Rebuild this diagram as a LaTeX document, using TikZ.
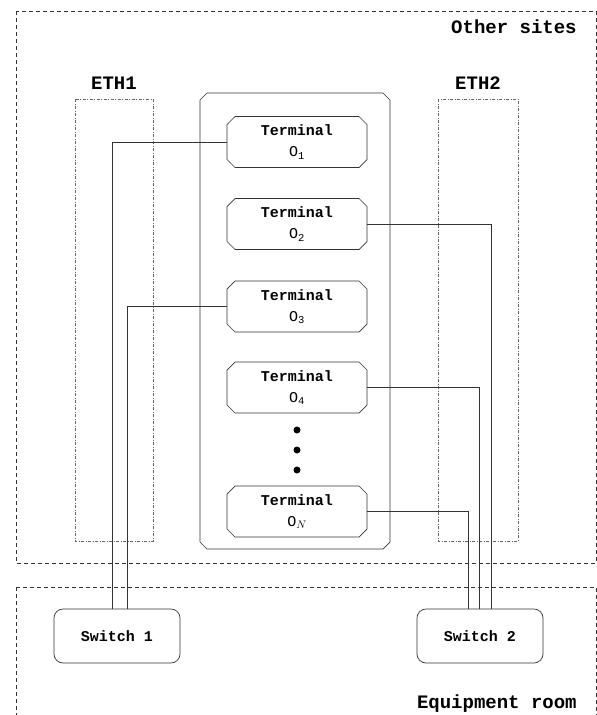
\documentclass[tikz,border=0pt]{standalone}
\usepackage{fontspec}
\setmonofont{Liberation Mono}
\usetikzlibrary{shapes.misc, calc}

\begin{document}
\begin{tikzpicture}[x=1pt, y=-1pt, line width=0.7pt,
    zone/.style={draw=black!80, dash pattern=on 4pt off 3pt},
    ethzone/.style={draw=black!60, dash pattern=on 3pt off 1.5pt on 1pt off 1.5pt},
    zonelabel/.style={font=\ttfamily\bfseries\fontsize{19}{22}\selectfont, inner sep=0pt},
    bayline/.style={draw=black!80},
    terminal/.style={draw=black!80, chamfered rectangle, chamfered rectangle xsep=4pt,
        chamfered rectangle ysep=4pt, minimum width=140pt, minimum height=51pt,
        inner sep=0pt, align=center, font=\ttfamily\fontsize{15}{21}\selectfont},
    switchbox/.style={draw=black!80, rounded corners=9pt, minimum width=126pt,
        minimum height=54pt, inner sep=0pt, font=\ttfamily\bfseries\fontsize{15}{18}\selectfont},
    cable/.style={draw=black!80}
]
    \useasboundingbox (0,0) rectangle (597,715);

    % Zone
    \draw[zone] (16,11) rectangle (596,563);
    \draw[zone] (16,587) rectangle (596,730);
    \node[zonelabel, anchor=east] (other) at (577,27) {Other sites};
    \node[zonelabel, anchor=east] (room) at (577,704) {Equipment room};

    % Ethernet
    \draw[ethzone] (75,99) rectangle (153,541);
    \draw[ethzone] (438,99) rectangle (518,541);
    \node[zonelabel] (eth1) at (114,83) {ETH1};
    \node[zonelabel] (eth2) at (478,83) {ETH2};

    % Armadio terminali (angoli smussati)
    \draw[bayline] (207,93) -- (383,93) -- (390,100) -- (390,542) -- (383,549)
        -- (207,549) -- (200,542) -- (200,100) -- cycle;

    % Terminali
    \node[terminal] (t1) at (297,142) {\textbf{Terminal}\\O\textsubscript{1}};
    \node[terminal] (t2) at (297,224) {\textbf{Terminal}\\O\textsubscript{2}};
    \node[terminal] (t3) at (297,306.5) {\textbf{Terminal}\\O\textsubscript{3}};
    \node[terminal] (t4) at (297,387.5) {\textbf{Terminal}\\O\textsubscript{4}};
    \node[terminal] (tn) at (297,511.5) {\textbf{Terminal}\\O$_N$};
    \fill (297,430) circle (3.5pt) (297,450) circle (3.5pt) (297,470) circle (3.5pt);

    % Switch
    \node[switchbox] (sw1) at (117,636) {Switch 1};
    \node[switchbox] (sw2) at (480,636) {Switch 2};

    % Cavi
    \draw[cable] (t1.west) -| ($(sw1.north)+(-5,0)$);
    \draw[cable] (t3.west) -| ($(sw1.north)+(10,0)$);
    \draw[cable] (t2.east) -| ($(sw2.north)+(11,0)$);
    \draw[cable] (t4.east) -| ($(sw2.north)+(-1,0)$);
    \draw[cable] (tn.east) -| ($(sw2.north)+(-12,0)$);
\end{tikzpicture}
\end{document}
